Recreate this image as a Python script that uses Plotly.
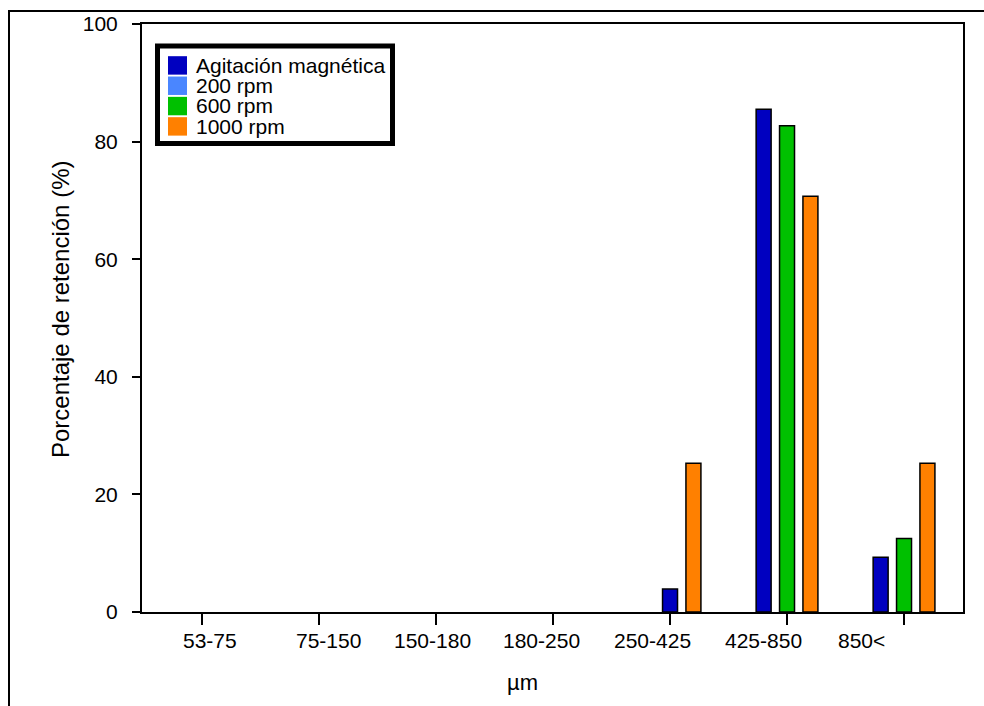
import plotly.graph_objects as go

# Sieve fractions (µm) and retention (%) for each stirring condition
categories = ["53-75", "75-150", "150-180", "180-250", "250-425", "425-850", "850<"]
series_names = ["Agitación magnética", "200 rpm", "600 rpm", "1000 rpm"]
agitacion = [0, 0, 0, 0, 3.9, 85.5, 9.3]
rpm_200 = [0, 0, 0, 0, 0, 0, 0]
rpm_600 = [0, 0, 0, 0, 0, 82.7, 12.5]
rpm_1000 = [0, 0, 0, 0, 25.3, 70.7, 25.3]
y_ticks = [0, 20, 40, 60, 80, 100]

# ---- layout constants ----
W, H = 984, 706
L, R, T, B = 142, 963, 22, 612          # plot area in pixels
colors = ["#0000C0", "#4A86FF", "#00C000", "#FF8000"]
FONT = "Liberation Sans, Arial, sans-serif"

# bar slot inside each group (step/width in category units)
SLOT_STEP, BAR_W = 0.2, 0.128
slots = [
    [-1, -1, -1, -1, 0, -1, -1],
    [0, 0, 0, 0, 0, 0, 0],
    [0, 0, 0, 0, 0, 0, 0],
    [1, 1, 1, 1, 1, 1, 1],
]
# positions of the category captions under the axis (category units)
label_pos = [0.07, 1.08, 1.97, 2.90, 3.85, 4.80, 5.64]
x_range = [-0.513, 6.504]


def px_x(px):
    return (px - L) / (R - L)


def px_y(py):
    return (B - py) / (B - T)


series = [agitacion, rpm_200, rpm_600, rpm_1000]
xs = list(range(len(categories)))

fig = go.Figure()
for name, vals, col, sl in zip(series_names, series, colors, slots):
    fig.add_trace(go.Bar(
        x=xs, y=vals, name=name,
        width=BAR_W,
        offset=[s * SLOT_STEP - BAR_W / 2 for s in sl],
        marker=dict(color=col,
                    line=dict(color="black",
                              width=[1.5 if v > 0 else 0 for v in vals])),
        showlegend=False,
    ))

shapes = []
annotations = []

# outer frame of the figure
shapes.append(dict(type="rect", xref="paper", yref="paper",
                   x0=px_x(9), x1=px_x(1000), y0=px_y(9), y1=px_y(730),
                   line=dict(color="black", width=2), layer="above"))

# category captions
for cat, pos in zip(categories, label_pos):
    annotations.append(dict(x=pos, y=px_y(641), xref="x", yref="paper",
                            text=cat, showarrow=False, xanchor="center",
                            yanchor="middle",
                            font=dict(family=FONT, size=21, color="black")))

# axis titles
annotations.append(dict(x=px_x(522), y=px_y(683), xref="paper", yref="paper",
                        text="µm", showarrow=False, xanchor="center",
                        yanchor="middle",
                        font=dict(family=FONT, size=22, color="black")))
annotations.append(dict(x=px_x(60), y=px_y(308), xref="paper", yref="paper",
                        text="Porcentaje de retención (%)", showarrow=False,
                        textangle=-90, xanchor="center", yanchor="middle",
                        font=dict(family=FONT, size=24, color="black")))

# legend box
shapes.append(dict(type="rect", xref="paper", yref="paper",
                   x0=px_x(157.5), x1=px_x(392.5), y0=px_y(44), y1=px_y(142),
                   line=dict(color="black", width=5), fillcolor="white",
                   layer="above"))
row_y = [63.3, 83.7, 104.1, 124.5]
for name, col, ry in zip(series_names, colors, row_y):
    shapes.append(dict(type="rect", xref="paper", yref="paper",
                       x0=px_x(168), x1=px_x(187), y0=px_y(ry - 9),
                       y1=px_y(ry + 9.5), line=dict(width=0),
                       fillcolor=col, layer="above"))
    annotations.append(dict(x=px_x(194), y=px_y(ry), xref="paper",
                            yref="paper", text=name, showarrow=False,
                            xanchor="left", yanchor="middle",
                            font=dict(family=FONT, size=21, color="black")))

fig.update_layout(
    width=W, height=H,
    margin=dict(l=L, r=W - R, t=T, b=H - B),
    paper_bgcolor="white", plot_bgcolor="white",
    barmode="overlay",
    shapes=shapes, annotations=annotations,
    font=dict(family=FONT, size=21, color="black"),
)
fig.update_xaxes(
    range=x_range, tickvals=xs, showticklabels=False,
    ticks="outside", ticklen=11, tickwidth=2, tickcolor="black",
    showline=True, linecolor="black", linewidth=2, mirror=True,
    showgrid=False, zeroline=False,
)
fig.update_yaxes(
    range=[0, 100], tickvals=y_ticks,
    ticks="outside", ticklen=8, tickwidth=2, tickcolor="black",
    showline=True, linecolor="black", linewidth=2, mirror=True,
    showgrid=False, zeroline=False, ticklabelstandoff=10,
    tickfont=dict(family=FONT, size=21, color="black"),
)

fig.write_html("out.html")
